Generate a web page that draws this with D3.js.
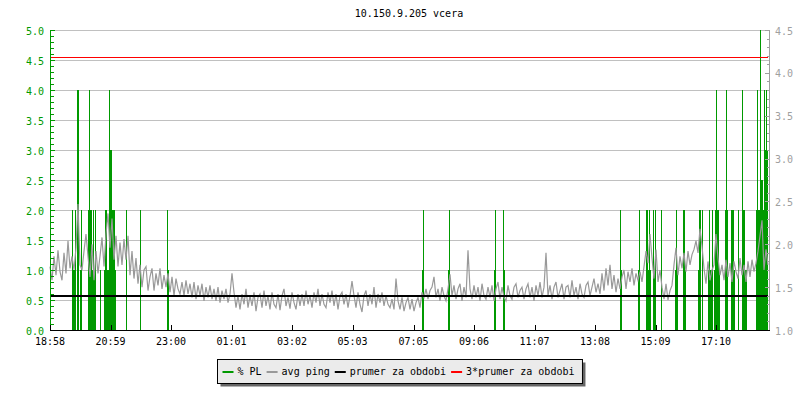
<!DOCTYPE html>
<html><head><meta charset="utf-8">
<script src="https://cdn.jsdelivr.net/npm/d3@7"></script>
<style>
body{margin:0;background:#fff}
svg{display:block}
text{font-family:"DejaVu Sans Mono",monospace;font-size:10px}
</style>
</head><body>
<svg id="c" width="800" height="400"></svg>
<script>
// ---------------- DATA ----------------
const chartTitle = "10.150.9.205 vcera";
const startLabel = "18:58";
const spanMinutes = 1440;
const sampleStep = 4; // minutes between avg ping samples

// avg ping (right axis), one value every 4 minutes from 18:58
const pingAvg = [
1.74,1.58,1.86,1.64,1.93,1.68, 1.58,1.90,1.66,2.04,1.72, 1.86,1.70,1.96, 2.47,1.76, 1.70,1.92, 2.12,1.86, 1.62,2.00,
1.58,1.92,1.66,1.86, 2.08,1.74, 2.12,2.36,1.96,2.30, 1.82,2.10,1.74, 2.02,1.76,2.06,1.82, 2.10, 1.64,1.92,1.60,1.84,
1.54,1.76,1.50,1.70,1.74,1.46, 1.62,1.72,1.46,1.66,1.52,1.72,1.48,1.64,1.50,1.66, 1.44,1.62,1.40,1.60,1.48,1.42,
1.56,1.40,1.58,1.42,1.54,1.38,1.56,1.36,1.52,1.40,1.54,1.34,1.50,1.38,1.52,1.36,1.48,1.34,1.50,1.32,1.46,1.36,1.48,1.32,1.42,
1.66,
1.44,1.26,1.40,1.24,1.42,1.30,1.48,1.26,1.40,1.28,1.44,1.22,1.38,1.42,1.26,1.46,1.28,1.40,1.24,1.44,1.30,1.26,1.42,1.23,1.40,1.48,1.28,1.38,1.25,1.44,1.32,1.24,1.42,1.28,
1.42,1.28,1.46,1.30,1.40,1.26,1.44,1.32,1.48,1.28,1.42,1.30,1.26,1.44,1.32,1.46,1.28,1.42,1.24,1.40,1.44,1.30,1.42,1.26,1.40,
1.57, 1.40,1.26,1.44,1.30, 1.21,
1.40,1.46,1.28,1.42,1.30,1.50,1.26,1.42,1.32,1.44,1.28,1.40,1.30, 1.26,1.36,1.24, 1.60,
1.34,1.24,1.38,1.22,1.32,1.38,1.24,1.36,1.22,1.32,1.38,1.26,
1.44,1.38,1.48,1.36,1.46,1.50, 1.62, 1.38,1.48,1.34,1.50,1.40,1.34,1.48, 1.65, 1.40,1.52,1.36,1.48,1.54,1.34,1.50,1.38, 1.93,
1.48,1.36,1.52,1.38,1.50,1.34,1.54,1.40,1.36,1.50,1.38,1.52,1.34,1.48,1.56,1.36,1.50,1.38,1.34,1.52,1.40,1.36,1.50,1.54,1.38,1.46,
1.50,1.36,1.48,1.54,1.38,1.50,1.34,1.52,1.40,1.56,1.38,1.50, 1.90,
1.40,1.52,1.36,1.50,1.56,1.38,1.46,1.54,1.36,1.50,1.52,1.38,1.58,1.40,1.50,1.36,1.54,1.42,1.38,1.52,1.56,1.40,1.50,1.60,1.44,1.54,1.42,
1.66,1.46,1.72,1.52,1.76,1.48,1.64,1.44,1.60,1.48, 1.62,1.70,1.48,1.68,1.56,1.72,1.52,1.66, 1.58,1.68,1.56,
1.74,1.92,1.78,2.12, 1.84,1.60,1.94,1.56,1.70, 1.50,1.36,1.54,1.35,1.46,1.52, 1.76,1.96,1.64,1.86,
1.72,1.90,1.68,1.92,1.76,1.88, 1.94,2.04,1.90,2.18,1.98, 1.72,1.54,1.80,1.58,1.70, 1.76,2.12,1.84,1.64,
1.76,1.58,1.82,1.62,1.78,1.56,1.80,1.68,1.60,1.84,1.64,1.76,1.56,1.80,1.62,1.82,1.68,1.78,
1.92,2.10,2.28, 1.70,1.94,1.76
];

// % packet loss events (left axis): minutes after 18:58 and value
const plMinutes = [
44,46,48,50,54,56,60,62,76,78,80,82,84,86,88,90,100,108,110,112,114,116,118,120,122,124,126,128,130,152,180,234,236,
744,746,796,798,888,890,906,908,
1140,1142,1176,1178,1192,1194,1196,1198,1200,1206,1208,1210,1222,1250,1252,1254,1266,1268,1270,
1296,1298,1300,1304,1316,1318,1320,1322,1324,1328,1330,1332,1334,1336,1338,1350,1352,1354,
1362,1364,1366,1368,1376,1384,1386,1388,1390,1392,
1412,1414,1416,1418,1420,1422,1424,1426,1428,1430,1432,1434
];
const plValues = [
2,1,1,2,4,4,1,2,2,4,2,2,1,2,1,2,1,1,2,2,1,1,4,3,3,2,2,2,1,2,2,2,1,
1,2,1,2,1,2,2,1,
2,1,1,2,2,2,1,2,1,2,1,2,2,1,2,1,2,2,1,
1,2,2,2,1,2,1,1,2,1,2,4,2,2,1,2,4,2,
2,2,2,1,2,4,2,2,1,1,
2,4,2,2,5,2.5,2.5,2,4,3,4,3
];

const prumer = 1.396;              // average ping for the period
const prumerFactor = 3;            // 3*prumer line
const leftDomain = [0, 5];
const rightDomain = [1, 4.5];
const xTickLabels = ["18:58","20:59","23:00","01:01","03:02","05:03","07:05","09:06","11:07","13:08","15:09","17:10"];
const legendLabels = ["% PL","avg ping","prumer za obdobi","3*prumer za obdobi"];
const legendColors = ["#009900","#999999","#000000","#ff0000"];

// ---------------- CHART ----------------
const svg = d3.select("#c");
const W = 800, H = 400;
const M = {left:50, right:30, top:30, bottom:70};
const green = legendColors[0], grayLine = legendColors[1];

const parseT = d3.timeParse("%H:%M");
const t0 = parseT(startLabel);
const addMin = (d, m) => new Date(d.getTime() + m*60000);
const t1 = addMin(t0, spanMinutes);

const x = d3.scaleTime().domain([t0, t1]).range([M.left, W - M.right]);
const yL = d3.scaleLinear().domain(leftDomain).range([H - M.bottom, M.top]);
const yR = d3.scaleLinear().domain(rightDomain).range([H - M.bottom, M.top]);

svg.append("rect").attr("width", W).attr("height", H).attr("fill", "#fff");

// title
svg.append("text").attr("x", 409).attr("y", 17).attr("text-anchor", "middle")
  .attr("fill", "#000").text(chartTitle);

// grid
const x0 = M.left, x1 = W - M.right;
svg.append("g").selectAll("line").data(yL.ticks(10)).join("line")
  .attr("x1", x0 + 1).attr("x2", x1)
  .attr("y1", d => yL(d) + 0.5).attr("y2", d => yL(d) + 0.5)
  .attr("stroke", "#c0c0c0").attr("stroke-width", 1);

// PL bars
svg.append("g").selectAll("rect").data(plMinutes.map((m, i) => ({t: addMin(t0, m), v: plValues[i]})))
  .join("rect")
  .attr("x", d => Math.round(x(d.t)))
  .attr("width", 1)
  .attr("y", d => yL(d.v))
  .attr("height", d => yL(0) - yL(d.v))
  .attr("fill", green);

// avg ping line
const pingData = pingAvg.map((v, i) => ({t: addMin(t0, i*sampleStep), v}));
svg.append("path").datum(pingData)
  .attr("fill", "none").attr("stroke", grayLine).attr("stroke-width", 1.2)
  .attr("d", d3.line().x(d => x(d.t)).y(d => yR(d.v)));

const tLast = pingData[pingData.length - 1].t;
// prumer line
svg.append("line").attr("x1", x(t0)).attr("x2", x(tLast))
  .attr("y1", yR(prumer)).attr("y2", yR(prumer))
  .attr("stroke", "#000").attr("stroke-width", 2);
// 3*prumer line
const yRed = Math.round(yR(prumer*prumerFactor));
svg.append("rect").attr("x", x(t0)).attr("width", x(tLast) - x(t0))
  .attr("y", yRed).attr("height", 1)
  .attr("fill", "#ff0000");

// left axis
const gl = svg.append("g");
gl.append("line").attr("x1", x0 + 0.5).attr("x2", x0 + 0.5).attr("y1", yL(leftDomain[1])).attr("y2", yL(leftDomain[0]) + 1)
  .attr("stroke", green);
const majorL = yL.ticks(10).map(d => +d.toFixed(2));
gl.selectAll(".mt").data(yL.ticks(50)).join("line")
  .attr("x1", x0).attr("x2", d => x0 + (majorL.includes(+d.toFixed(2)) ? 5 : 4))
  .attr("y1", d => Math.round(yL(d)) + 0.5).attr("y2", d => Math.round(yL(d)) + 0.5)
  .attr("stroke", green);
gl.selectAll("text").data(yL.ticks(10)).join("text")
  .attr("x", x0 - 6).attr("y", d => yL(d) + 4.5).attr("text-anchor", "end")
  .attr("fill", green).text(d3.format(".1f"));

// right axis
const gr = svg.append("g");
const axR = "#a0a0a0";
gr.append("line").attr("x1", x1 - 0.5).attr("x2", x1 - 0.5).attr("y1", yR(rightDomain[1])).attr("y2", yR(rightDomain[0]) + 1)
  .attr("stroke", axR);
const majorR = yR.ticks(7).map(d => +d.toFixed(2));
gr.selectAll(".mt").data(yR.ticks(35)).join("line")
  .attr("x1", x1).attr("x2", d => x1 - (majorR.includes(+d.toFixed(2)) ? 5 : 3))
  .attr("y1", d => Math.round(yR(d)) + 0.5).attr("y2", d => Math.round(yR(d)) + 0.5)
  .attr("stroke", axR);
gr.selectAll("text").data(yR.ticks(7)).join("text")
  .attr("x", x1 + 5).attr("y", d => yR(d) + 4.5).attr("text-anchor", "start")
  .attr("fill", axR).text(d3.format(".1f"));

// bottom axis
const gb = svg.append("g");
gb.append("line").attr("x1", x0).attr("x2", x1).attr("y1", yL(0) + 0.5).attr("y2", yL(0) + 0.5).attr("stroke", "#000");
const tickTimes = xTickLabels.map(s => { let d = parseT(s); if (d < t0) d = addMin(d, 1440); return d; });
gb.selectAll(".tk").data(tickTimes).join("line")
  .attr("x1", d => Math.round(x(d)) + 0.5).attr("x2", d => Math.round(x(d)) + 0.5)
  .attr("y1", yL(0) - 5).attr("y2", yL(0))
  .attr("stroke", "#000");
gb.selectAll("text").data(tickTimes).join("text")
  .attr("x", d => x(d)).attr("y", yL(0) + 15).attr("text-anchor", "middle")
  .attr("fill", "#000").text(d3.timeFormat("%H:%M"));

// legend
const lg = svg.append("g");
const lgX = 217.5, lgY = 359.5, lgH = 24;
const shadow = lg.append("rect").attr("fill", "#666");
const box = lg.append("rect").attr("fill", "#ebebeb").attr("stroke", "#000").attr("stroke-width", 1);
let cx = lgX + 5;
legendLabels.forEach((lab, i) => {
  lg.append("rect").attr("x", cx).attr("y", 371).attr("width", 11).attr("height", 2).attr("fill", legendColors[i]);
  const t = lg.append("text").attr("x", cx + 15).attr("y", 375).attr("fill", "#000").text(lab);
  cx += 15 + t.node().getComputedTextLength() + 5;
});
const lgW = cx + 3 - lgX;
box.attr("x", lgX).attr("y", lgY).attr("width", lgW).attr("height", lgH);
shadow.attr("x", lgX + 3).attr("y", lgY + 3).attr("width", lgW).attr("height", lgH);
</script>
</body></html>
